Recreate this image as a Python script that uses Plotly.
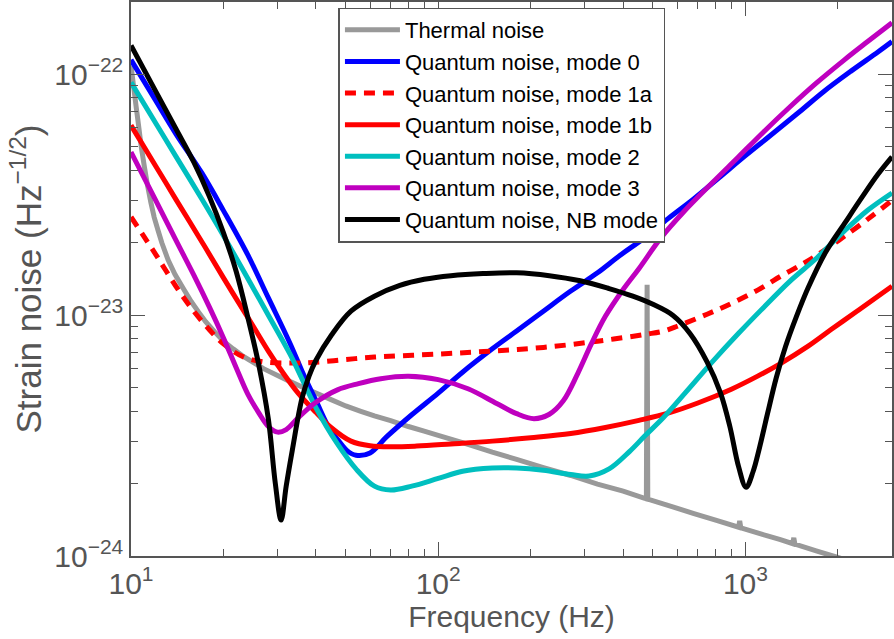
import math
import plotly.graph_objects as go

# ---------------- data ----------------
freq_thermal = [10, 10.2, 10.4, 10.6, 10.8, 11.05, 11.3, 11.6, 11.9, 12.25, 12.6, 13.2, 13.9,
                14.8, 15.7, 16.6, 17.5, 18.7, 20, 21.5, 23, 25, 27, 30, 33, 36.5, 40, 45, 50,
                56, 62, 70, 80, 90, 100, 120, 150, 180, 220, 270, 330, 400, 470, 476, 478.6,
                481, 490, 580, 680, 800, 950, 958, 966, 1150, 1300, 1425, 1437, 1449, 1700,
                2000, 2500, 3000]
h_thermal = [1.09e-22, 8.9e-23, 7.3e-23, 6.05e-23, 5.0e-23, 4.15e-23, 3.5e-23, 2.95e-23,
             2.55e-23, 2.25e-23, 2.0e-23, 1.7e-23, 1.48e-23, 1.29e-23, 1.14e-23, 1.03e-23,
             9.4e-24, 8.55e-24, 7.8e-24, 7.25e-24, 6.8e-24, 6.37e-24, 6.0e-24, 5.62e-24,
             5.3e-24, 5.0e-24, 4.75e-24, 4.45e-24, 4.2e-24, 3.99e-24, 3.82e-24, 3.65e-24,
             3.45e-24, 3.3e-24, 3.17e-24, 2.96e-24, 2.7e-24, 2.52e-24, 2.33e-24, 2.16e-24,
             1.99e-24, 1.86e-24, 1.735e-24, 1.73e-24, 1.34e-23, 1.72e-24, 1.71e-24, 1.6e-24,
             1.5e-24, 1.41e-24, 1.317e-24, 1.4e-24, 1.31e-24, 1.223e-24, 1.17e-24, 1.125e-24,
             1.19e-24, 1.12e-24, 1.05e-24, 0.986e-24, 0.904e-24, 0.841e-24]

freq_mode0 = [10, 12, 14, 17, 20, 24, 28, 33, 36.6, 40, 44.6, 47, 50.5, 54, 60, 68, 82, 100,
              120, 150, 180, 220, 270, 330, 390, 470, 560, 680, 820, 1000, 1200, 1500, 1800,
              2200, 2700, 3000]
h_mode0 = [1.15e-22, 7.84e-23, 5.67e-23, 3.9e-23, 2.72e-23, 1.78e-23, 1.18e-23, 7.6e-24,
           5.6e-24, 4.42e-24, 3.32e-24, 3.05e-24, 2.74e-24, 2.62e-24, 2.68e-24, 3.13e-24,
           3.86e-24, 4.75e-24, 5.8e-24, 7.25e-24, 8.6e-24, 1.04e-23, 1.26e-23, 1.5e-23,
           1.77e-23, 2.1e-23, 2.52e-23, 3.05e-23, 3.72e-23, 4.6e-23, 5.55e-23, 7.0e-23,
           8.5e-23, 1.03e-22, 1.24e-22, 1.37e-22]

freq_mode1a = [10, 11, 12, 13, 14.4, 16, 18, 20, 23, 27, 33, 40, 50, 62, 100, 150, 220, 330,
               478.6, 542, 600, 750, 900, 1100, 1300, 1550, 1800, 2200, 2600, 3000]
h_mode1a = [2.56e-23, 2.13e-23, 1.8e-23, 1.53e-23, 1.25e-23, 1.04e-23, 8.7e-24, 7.6e-24,
            6.75e-24, 6.4e-24, 6.33e-24, 6.38e-24, 6.55e-24, 6.7e-24, 6.9e-24, 7.1e-24,
            7.35e-24, 7.8e-24, 8.35e-24, 8.6e-24, 9.0e-24, 1.01e-23, 1.12e-23, 1.275e-23,
            1.45e-23, 1.645e-23, 1.855e-23, 2.22e-23, 2.6e-23, 3.0e-23]

freq_mode1b = [10, 12, 14, 17, 20, 22.2, 25, 28, 31, 35, 40, 45, 52, 60, 70, 85, 110, 150, 200,
               270, 350, 450, 560, 700, 900, 1100, 1300, 1600, 1900, 2300, 2700, 3000]
h_mode1b = [6.15e-23, 4.19e-23, 3.03e-23, 2.02e-23, 1.43e-23, 1.15e-23, 9.0e-24, 7.1e-24,
            5.85e-24, 4.75e-24, 3.95e-24, 3.4e-24, 3.0e-24, 2.87e-24, 2.84e-24, 2.86e-24,
            2.92e-24, 3.0e-24, 3.1e-24, 3.23e-24, 3.42e-24, 3.66e-24, 3.92e-24, 4.32e-24,
            4.93e-24, 5.6e-24, 6.3e-24, 7.44e-24, 8.72e-24, 1.036e-23, 1.2e-23, 1.32e-23]

freq_mode2 = [10, 12, 14, 17, 20, 24, 28, 33, 40, 47, 54, 62, 70, 82, 100, 120, 150, 180, 220,
              270, 310, 360, 420, 470, 540, 640, 780, 950, 1140, 1400, 1700, 2100, 2500, 3000]
h_mode2 = [9.27e-23, 6.32e-23, 4.57e-23, 3.04e-23, 2.14e-23, 1.42e-23, 1.0e-23, 6.86e-24,
           4.13e-24, 2.92e-24, 2.3e-24, 1.95e-24, 1.88e-24, 1.95e-24, 2.1e-24, 2.25e-24,
           2.32e-24, 2.32e-24, 2.27e-24, 2.18e-24, 2.15e-24, 2.3e-24, 2.72e-24, 3.15e-24,
           3.75e-24, 4.79e-24, 6.4e-24, 8.41e-24, 1.07e-23, 1.39e-23, 1.72e-23, 2.24e-23,
           2.73e-23, 3.22e-23]

freq_mode3 = [10, 12, 14, 16, 18, 20, 22, 24, 26, 28, 30, 32, 35, 40, 47, 55, 65, 80, 100, 125,
              155, 180, 205, 230, 255, 285, 315, 350, 400, 450, 530, 630, 780, 950, 1150, 1400,
              1700, 2100, 2500, 3000]
h_mode3 = [4.76e-23, 3.02e-23, 2.05e-23, 1.47e-23, 1.08e-23, 8.05e-24, 6.05e-24, 4.7e-24,
           3.95e-24, 3.45e-24, 3.27e-24, 3.35e-24, 3.75e-24, 4.35e-24, 4.9e-24, 5.2e-24,
           5.45e-24, 5.58e-24, 5.4e-24, 4.95e-24, 4.3e-24, 3.9e-24, 3.72e-24, 3.88e-24,
           4.4e-24, 5.75e-24, 7.6e-24, 9.9e-24, 1.28e-23, 1.56e-23, 2.09e-23, 2.69e-23,
           3.55e-23, 4.55e-23, 5.8e-23, 7.36e-23, 9.2e-23, 1.15e-22, 1.37e-22, 1.64e-22]

freq_nb = [10, 12, 14, 16, 18, 20, 22, 24, 26, 28, 29.5, 30.8, 32, 33.5, 36, 38, 40, 45, 52, 62,
           75, 90, 110, 140, 180, 230, 290, 360, 430, 500, 580, 660, 750, 830, 890, 950, 1005,
           1060, 1110, 1180, 1260, 1350, 1460, 1600, 1830, 2100, 2400, 2700, 3000]
h_nb = [1.32e-22, 8.57e-23, 5.95e-23, 4.33e-23, 3.11e-23, 2.2e-23, 1.52e-23, 9.8e-24, 6.3e-24,
        3.7e-24, 2.0e-24, 1.41e-24, 1.95e-24, 2.75e-24, 4.5e-24, 5.6e-24, 6.5e-24, 8.3e-24,
        1.04e-23, 1.2e-23, 1.33e-23, 1.41e-23, 1.46e-23, 1.49e-23, 1.5e-23, 1.46e-23,
        1.39e-23, 1.29e-23, 1.2e-23, 1.11e-23, 1.0e-23, 8.4e-24, 6.4e-24, 4.75e-24, 3.45e-24,
        2.35e-24, 1.93e-24, 2.25e-24, 2.8e-24, 3.9e-24, 5.5e-24, 7.4e-24, 9.75e-24, 1.3e-23,
        1.84e-23, 2.4e-23, 3.1e-23, 3.85e-23, 4.55e-23]

x_ticks = [10, 100, 1000]
x_ticktext = ["10<sup>1</sup>", "10<sup>2</sup>", "10<sup>3</sup>"]
x_minor = [20, 30, 40, 50, 60, 70, 80, 90, 200, 300, 400, 500, 600, 700, 800, 900, 2000, 3000]
y_ticks = [1e-24, 1e-23, 1e-22]
y_ticktext = ["10<sup>\u221224</sup>", "10<sup>\u221223</sup>", "10<sup>\u221222</sup>"]
y_minor = [k * 1e-24 for k in range(2, 10)] + [k * 1e-23 for k in range(2, 10)] + [2e-22]

# ---------------- figure ----------------
series = [
    ("Thermal noise", freq_thermal, h_thermal, "#999999", "solid", "linear"),
    ("Quantum noise, mode 0", freq_mode0, h_mode0, "#0000ff", "solid", "spline"),
    ("Quantum noise, mode 1a", freq_mode1a, h_mode1a, "#ff0000", "11px,8px", "spline"),
    ("Quantum noise, mode 1b", freq_mode1b, h_mode1b, "#ff0000", "solid", "spline"),
    ("Quantum noise, mode 2", freq_mode2, h_mode2, "#00bfbf", "solid", "spline"),
    ("Quantum noise, mode 3", freq_mode3, h_mode3, "#bf00bf", "solid", "spline"),
    ("Quantum noise, NB mode", freq_nb, h_nb, "#000000", "solid", "spline"),
]

fig = go.Figure()
for name, f, h, color, dash, shape in series:
    line = dict(color=color, width=5, dash=dash, shape=shape, simplify=False)
    if shape == "spline":
        line["smoothing"] = 1.0
    fig.add_trace(go.Scatter(x=f, y=h, mode="lines", name=name, line=line))

axis_color = "#555555"
font_family = "Liberation Sans, Arial, Helvetica, sans-serif"

fig.update_layout(
    width=894, height=639,
    margin=dict(l=131, r=0, t=1, b=83),
    paper_bgcolor="white", plot_bgcolor="white",
    font=dict(family=font_family, color=axis_color),
    showlegend=True,
    legend=dict(x=0.2726, y=0.99, xanchor="left", yanchor="top",
                bgcolor="white", bordercolor=axis_color, borderwidth=1.5,
                font=dict(size=22, color="black", family=font_family),
                itemwidth=55, tracegroupgap=0),
)

common = dict(showgrid=False, zeroline=False, showline=True, linecolor=axis_color,
              linewidth=1.5, mirror="ticks", ticks="inside", ticklen=14, tickwidth=1.3,
              tickcolor=axis_color)

fig.update_xaxes(type="log", range=[1, math.log10(3000)], tickmode="array",
                 tickvals=x_ticks, ticktext=x_ticktext, tickfont=dict(size=30),
                 minor=dict(tickmode="array", tickvals=x_minor, ticks="inside", ticklen=7,
                            tickwidth=1.3, tickcolor=axis_color, showgrid=False),
                 title=dict(text="Frequency (Hz)", font=dict(size=30), standoff=3),
                 **common)
fig.update_yaxes(type="log", range=[-24, math.log10(2e-22)], tickmode="array",
                 tickvals=y_ticks, ticktext=y_ticktext, tickfont=dict(size=30),
                 minor=dict(tickmode="array", tickvals=y_minor, ticks="inside", ticklen=7,
                            tickwidth=1.3, tickcolor=axis_color, showgrid=False),
                 title=dict(text="Strain noise (Hz<sup>\u22121/2</sup>)", font=dict(size=35),
                            standoff=2),
                 **common)

fig.write_html("out.html")
